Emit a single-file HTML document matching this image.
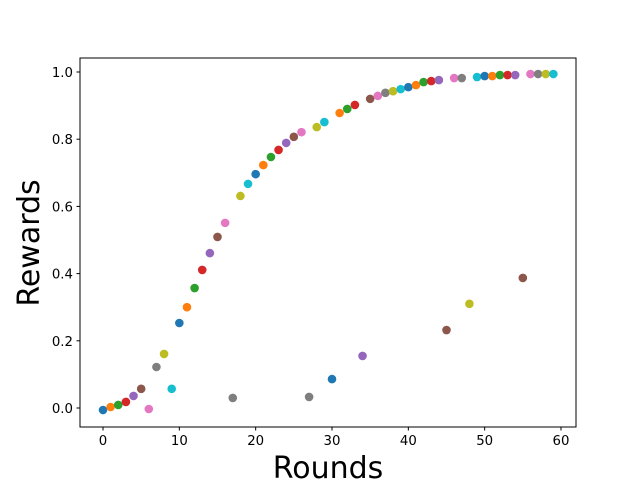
<!DOCTYPE html>
<html><head><meta charset="utf-8"><style>
body{margin:0;background:#fff;}
svg{display:block;font-family:"DejaVu Sans","Liberation Sans",sans-serif;}
</style></head><body>
<svg id="chart" width="640" height="480">
<rect x="0" y="0" width="640" height="480" fill="#fff"/>
<g id="plot"></g>
<rect x="80" y="58" width="496" height="369" fill="none" stroke="#000" stroke-width="1"/>
<text x="328" y="478" text-anchor="middle" font-size="30">Rounds</text>
<text transform="translate(39,243) rotate(-90)" text-anchor="middle" font-size="30">Rewards</text>
</svg>
<script>
const rounds = [];
for (let i = 0; i < 60; i++) rounds.push(i);
const rewards = [-0.006,0.003,0.009,0.018,0.036,0.057,-0.003,0.122,0.161,0.057,
0.253,0.300,0.357,0.411,0.461,0.509,0.551,0.030,0.631,0.667,
0.696,0.723,0.747,0.768,0.789,0.807,0.821,0.033,0.836,0.851,
0.086,0.878,0.890,0.902,0.155,0.920,0.929,0.938,0.943,0.949,
0.955,0.961,0.970,0.973,0.976,0.232,0.982,0.982,0.310,0.985,
0.988,0.988,0.991,0.991,0.991,0.387,0.994,0.994,0.994,0.994];
const xTicks = [0,10,20,30,40,50,60];
const yTicks = [0.0,0.2,0.4,0.6,0.8,1.0];
const colors = ["#1f77b4","#ff7f0e","#2ca02c","#d62728","#9467bd","#8c564b","#e377c2","#7f7f7f","#bcbd22","#17becf"];
const xs = v => 103 + v * (561 - 103) / 60;
const ys = v => 408 - v * 336;
const NS = "http://www.w3.org/2000/svg";
const svg = document.getElementById("chart");
const plot = document.getElementById("plot");
function mk(tag, attrs, parent) {
  const e = document.createElementNS(NS, tag);
  for (const k in attrs) e.setAttribute(k, attrs[k]);
  parent.appendChild(e);
  return e;
}
xTicks.forEach(t => {
  const g = mk("g", {}, svg);
  
  
  mk("line", {x1: xs(t), x2: xs(t), y1: 427, y2: 430.5, stroke: "#000"}, g);
  const tx = mk("text", {x: xs(t), y: 445, "text-anchor": "middle", "font-size": "13.3"}, g);
  tx.textContent = t;
});
yTicks.forEach(t => {
  const g = mk("g", {}, svg);
  
  
  mk("line", {x1: 76.5, x2: 80, y1: ys(t), y2: ys(t), stroke: "#000"}, g);
  const tx = mk("text", {x: 73, y: ys(t) + 5, "text-anchor": "end", "font-size": "13.3"}, g);
  tx.textContent = t.toFixed(1);
});
rounds.forEach((r, i) => {
  const c = mk("circle", {cx: xs(r), cy: ys(rewards[i]), r: 4.3, fill: colors[i % 10]}, plot);
  
  
});
</script>
</body></html>
